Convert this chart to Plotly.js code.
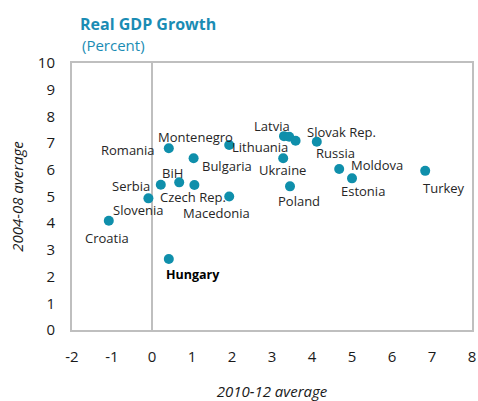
<!DOCTYPE html>
<html>
<head>
<meta charset="utf-8">
<script src="https://cdn.plot.ly/plotly-3.0.1.min.js"></script>
<style>html,body{margin:0;padding:0;background:#fff}#chart{width:478px;height:401px}</style>
</head>
<body>
<div id="chart"></div>
<script>
// Data
const countries = ["Romania","Montenegro","Bulgaria","Serbia","BiH","Czech Rep.","Slovenia","Macedonia","Croatia","Hungary","Latvia","Slovak Rep.","Lithuania","Russia","Ukraine","Poland","Moldova","Estonia","Turkey"];
const growth2010_12 = [0.42, 1.93, 1.04, 0.22, 0.68, 1.06, -0.09, 1.93, -1.08, 0.42, 3.30, 3.43, 3.59, 4.12, 3.28, 3.45, 4.68, 5.00, 6.83];
const growth2004_08 = [6.81, 6.93, 6.43, 5.44, 5.53, 5.43, 4.93, 5.00, 4.09, 2.66, 7.26, 7.24, 7.09, 7.05, 6.43, 5.38, 6.03, 5.68, 5.96];
const xTickVals = [-2,-1,0,1,2,3,4,5,6,7,8];
const xTickText = ["-2","-1","0","1","2","3","4","5","6","7","8"];
const yTickVals = [0,1,2,3,4,5,6,7,8,9,10];

// Label placement (pixel offsets of label centre from its point; dy positive = down)
const labelOffsets = {
  "Romania":[-41,1.5], "Montenegro":[-33.5,-7.6], "Bulgaria":[33.8,8], "Serbia":[-29.7,1],
  "BiH":[-6.3,-9.4], "Czech Rep.":[-1.3,11.6], "Slovenia":[-9.6,11.7], "Macedonia":[-12.5,16],
  "Croatia":[-1.5,16.7], "Hungary":[24.6,16], "Latvia":[-12,-10.3], "Slovak Rep.":[52.5,-4.3],
  "Lithuania":[-35.4,6.7], "Russia":[18.3,11.7], "Ukraine":[-0.5,11.6], "Poland":[8.7,14.3],
  "Moldova":[37.4,-4.3], "Estonia":[10.5,12.3], "Turkey":[19,17.3]
};

const labelFont = {family: "Open Sans, sans-serif", size: 13, color: "#262626"};
const annotations = countries.map((c, i) => {
  const off = labelOffsets[c];
  return {
    x: growth2010_12[i], y: growth2004_08[i], xref: "x", yref: "y",
    text: c === "Hungary" ? "<b>" + c + "</b>" : c,
    showarrow: false, xanchor: "center", yanchor: "middle",
    xshift: off[0], yshift: -off[1], borderpad: 0,
    font: c === "Hungary" ? {family: labelFont.family, size: 12.5, color: "#000"} : labelFont
  };
});
annotations.push({
  xref: "paper", yref: "paper", x: 0.02, y: 1, xanchor: "left", yanchor: "bottom", yshift: 6,
  text: "(Percent)", showarrow: false,
  font: {family: "Open Sans, sans-serif", size: 15, color: "#1a8cb4"}
});

const trace = {
  type: "scatter", mode: "markers",
  x: growth2010_12, y: growth2004_08, text: countries,
  marker: {color: "#0f8fab", size: 10},
  hoverinfo: "text+x+y", cliponaxis: false
};

const axisCommon = {
  showgrid: false, showline: true, mirror: true, linecolor: "#bfbfbf", linewidth: 2,
  ticks: "", tickfont: {family: "Open Sans, sans-serif", size: 15, color: "#1a1a1a"},
  ticklabelstandoff: 12, fixedrange: true
};

const layout = {
  width: 478, height: 401,
  margin: {l: 72, r: 6, t: 63, b: 71},
  paper_bgcolor: "#fff", plot_bgcolor: "#fff",
  showlegend: false,
  title: {
    text: "<b>Real GDP Growth</b>", x: 80/478, xanchor: "left", y: 1 - 24/401, yanchor: "middle",
    font: {family: "Open Sans, sans-serif", size: 16, color: "#1a8cb4"}
  },
  xaxis: Object.assign({}, axisCommon, {
    range: [-2, 8], tickvals: xTickVals, ticktext: xTickText,
    zeroline: true, zerolinecolor: "#bfbfbf", zerolinewidth: 2,
    title: {text: "<i>2010-12 average</i>", standoff: 22,
      font: {family: "Open Sans, sans-serif", size: 15, color: "#1a1a1a"}}
  }),
  yaxis: Object.assign({}, axisCommon, {
    range: [0, 10], tickvals: yTickVals, zeroline: false,
    title: {text: "<i>2004-08 average</i>", standoff: 11,
      font: {family: "Open Sans, sans-serif", size: 15, color: "#1a1a1a"}}
  }),
  annotations: annotations
};

Plotly.newPlot("chart", [trace], layout, {displayModeBar: false, staticPlot: true});
</script>
</body>
</html>
